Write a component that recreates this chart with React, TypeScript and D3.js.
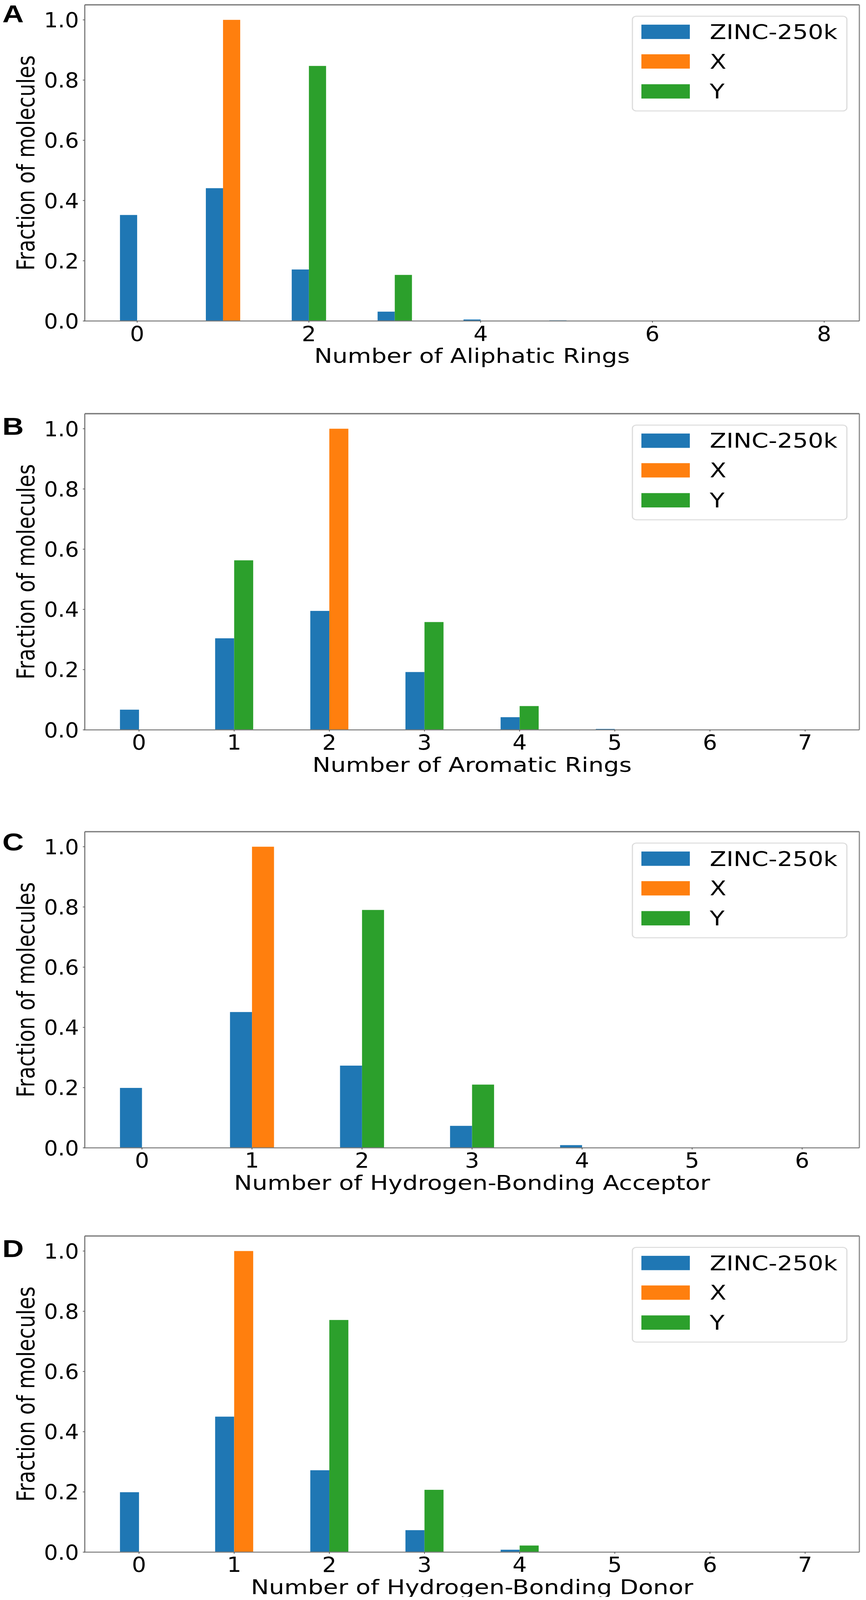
import React, { useEffect, useState } from "react";
import * as d3 from "d3";

// ---------- data ----------
const seriesNames = ["ZINC-250k", "X", "Y"];
const seriesColors = ["#1f77b4", "#ff7f0e", "#2ca02c"];
const yTicks = [0, 0.2, 0.4, 0.6, 0.8, 1.0];

const aliphaticTicks = [0, 2, 4, 6, 8];
const aliphaticZinc = [0.352, 0.441, 0.171, 0.031, 0.005, 0.002, 0, 0, 0];
const aliphaticX = [0, 1, 0, 0, 0, 0, 0, 0];
const aliphaticY = [0, 0, 0.847, 0.153, 0, 0, 0, 0];

const aromaticTicks = [0, 1, 2, 3, 4, 5, 6, 7];
const aromaticZinc = [0.067, 0.304, 0.395, 0.192, 0.042, 0.003, 0, 0];
const aromaticX = [0, 0, 1, 0, 0, 0, 0, 0];
const aromaticY = [0, 0.563, 0, 0.358, 0.079, 0, 0, 0];

const acceptorTicks = [0, 1, 2, 3, 4, 5, 6];
const acceptorZinc = [0.199, 0.451, 0.273, 0.073, 0.009, 0, 0];
const acceptorX = [0, 1, 0, 0, 0, 0, 0];
const acceptorY = [0, 0, 0.79, 0.21, 0, 0, 0];

const donorTicks = [0, 1, 2, 3, 4, 5, 6, 7];
const donorZinc = [0.199, 0.45, 0.272, 0.073, 0.008, 0, 0, 0];
const donorX = [0, 1, 0, 0, 0, 0, 0, 0];
const donorY = [0, 0, 0.771, 0.207, 0.022, 0, 0, 0];

const panels = [
  { letter: "A", xlabel: "Number of Aliphatic Rings", ticks: aliphaticTicks, zinc: aliphaticZinc, x: aliphaticX, y: aliphaticY },
  { letter: "B", xlabel: "Number of Aromatic Rings", ticks: aromaticTicks, zinc: aromaticZinc, x: aromaticX, y: aromaticY },
  { letter: "C", xlabel: "Number of Hydrogen-Bonding Acceptor", ticks: acceptorTicks, zinc: acceptorZinc, x: acceptorX, y: acceptorY },
  { letter: "D", xlabel: "Number of Hydrogen-Bonding Donor", ticks: donorTicks, zinc: donorZinc, x: donorX, y: donorY },
];

// ---------- layout ----------
const W = 2217;
const H = 4915;
const zeroYs = [986, 2242, 3526, 4768];
const letterBaselines = [69, 1336, 2612, 3862];
const axLeft = 217;
const axRight = 2200;
const unitH = 925;
const barW = 0.2;
const FONT = "'DejaVu Sans', Verdana, sans-serif";

function Panel({ p, idx }: { p: any; idx: number }) {
  const zeroY = zeroYs[idx];
  const topY = zeroY - unitH * 1.05;
  const lo = -barW;
  const hi = Math.max(p.zinc.length - 1, p.x.length - 1 + barW, p.y.length - 1 + barW);
  const m = (hi - lo) * 0.05;
  const xs = d3.scaleLinear().domain([lo - m, hi + m]).range([axLeft, axRight]);
  const ys = d3.scaleLinear().domain([0, 1.05]).range([zeroY, topY]);

  const bars: any[] = [];
  p.zinc.forEach((v: number, i: number) => {
    if (v > 0) bars.push({ x0: i - barW, v, c: seriesColors[0] });
  });
  p.x.forEach((v: number, i: number) => {
    if (v > 0) bars.push({ x0: i, v, c: seriesColors[1] });
  });
  p.y.forEach((v: number, i: number) => {
    if (v > 0) bars.push({ x0: i, v, c: seriesColors[2] });
  });

  const legX = 1619;
  const legY = topY + 35;
  const rowCenters = [83, 174, 266];

  return (
    <g>
      {bars.map((b, k) => (
        <rect
          key={k}
          x={xs(b.x0)}
          y={ys(b.v)}
          width={xs(b.x0 + barW) - xs(b.x0)}
          height={ys(0) - ys(b.v)}
          fill={b.c}
        />
      ))}
      {/* spines */}
      <line x1={axLeft} x2={axRight} y1={topY} y2={topY} stroke="#7a7a7a" strokeWidth={4} />
      <line x1={axRight} x2={axRight} y1={topY} y2={zeroY} stroke="#8a8a8a" strokeWidth={3} />
      <line x1={axLeft} x2={axLeft} y1={topY} y2={zeroY} stroke="#7a7a7a" strokeWidth={3} />
      <line x1={axLeft - 2} x2={axRight} y1={zeroY} y2={zeroY} stroke="#7a7a7a" strokeWidth={3} />
      {/* y ticks */}
      {yTicks.map((t) => (
        <g key={"y" + t}>
          <line x1={axLeft - 5} x2={axLeft} y1={ys(t)} y2={ys(t)} stroke="#555" strokeWidth={2} />
          <text
            transform={`translate(${axLeft - 15},${ys(t) + 23}) scale(0.88,1)`}
            textAnchor="end"
            fontFamily={FONT}
            fontSize={64}
            fill="#000"
          >
            {d3.format(".1f")(t)}
          </text>
        </g>
      ))}
      {/* x ticks */}
      {p.ticks.map((t: number) => (
        <g key={"x" + t}>
          <line x1={xs(t)} x2={xs(t)} y1={zeroY} y2={zeroY + 5} stroke="#555" strokeWidth={2} />
          <text
            transform={`translate(${xs(t)},${zeroY + 61}) scale(0.9,1)`}
            textAnchor="middle"
            fontFamily={FONT}
            fontSize={64}
            fill="#000"
          >
            {t}
          </text>
        </g>
      ))}
      {/* axis labels */}
      <text
        x={(axLeft + axRight) / 2}
        y={zeroY + 129}
        textAnchor="middle"
        fontFamily={FONT}
        fontSize={62}
        fill="#000"
      >
        {p.xlabel}
      </text>
      <text
        transform={`translate(88,${(topY + zeroY) / 2}) rotate(-90)`}
        textAnchor="middle"
        fontFamily={FONT}
        fontSize={62}
        fill="#000"
      >
        Fraction of molecules
      </text>
      {/* panel letter */}
      <text
        x={6}
        y={letterBaselines[idx]}
        fontFamily="'Liberation Sans', Arial, sans-serif"
        fontWeight="bold"
        fontSize={76}
        fill="#000"
      >
        {p.letter}
      </text>
      {/* legend */}
      <rect
        x={legX}
        y={legY}
        width={549}
        height={291}
        rx={10}
        ry={10}
        fill="#fff"
        fillOpacity={0.8}
        stroke="#dcdcdc"
        strokeWidth={3}
      />
      {seriesNames.map((name, k) => (
        <g key={name}>
          <rect x={legX + 23} y={topY + rowCenters[k] - 22} width={124} height={44} fill={seriesColors[k]} />
          <text
            x={legX + 198}
            y={topY + rowCenters[k] + 22}
            fontFamily={FONT}
            fontSize={62}
            fill="#000"
          >
            {name}
          </text>
        </g>
      ))}
    </g>
  );
}

function viewportHeight() {
  if (typeof window === "undefined") return H;
  const h = window.innerHeight || H;
  return Math.min(H, h);
}

export default function App() {
  const [vh, setVh] = useState<number>(viewportHeight());
  useEffect(() => {
    const onResize = () => setVh(viewportHeight());
    window.addEventListener("resize", onResize);
    return () => window.removeEventListener("resize", onResize);
  }, []);

  return (
    <div style={{ margin: -8, width: W, height: vh, overflow: "hidden", background: "#fff" }}>
      <svg
        width={W}
        height={vh}
        viewBox={`0 0 ${W} ${H}`}
        preserveAspectRatio="none"
        style={{ display: "block" }}
      >
        <rect x={0} y={0} width={W} height={H} fill="#fff" />
        {panels.map((p, i) => (
          <Panel key={p.letter} p={p} idx={i} />
        ))}
      </svg>
    </div>
  );
}
